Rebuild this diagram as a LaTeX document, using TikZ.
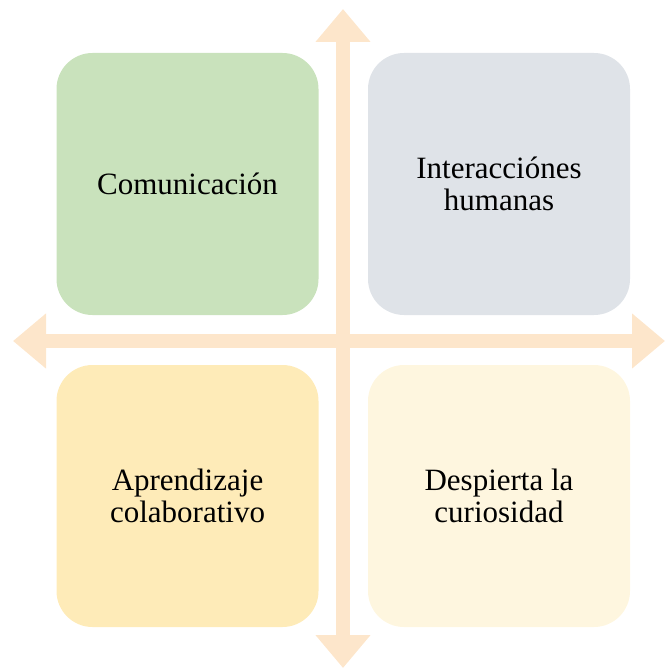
\documentclass[tikz,border=0pt]{standalone}
\usepackage{fontspec}
\setmainfont{Liberation Serif}
\usetikzlibrary{arrows.meta}
\definecolor{verde}{HTML}{C9E2BC}
\definecolor{gris}{HTML}{DFE3E8}
\definecolor{amarillo}{HTML}{FEEBB8}
\definecolor{crema}{HTML}{FEF6DF}
\definecolor{durazno}{HTML}{FDE6CB}
\begin{document}
\begin{tikzpicture}[x=1pt,y=-1pt,
    cuadro/.style={rectangle,rounded corners=36pt,minimum width=262pt,minimum height=262pt,
        align=center,inner sep=0pt,font=\fontsize{31}{32}\selectfont},
    flecha/.style={durazno,line width=14pt,
        {Triangle[length=33pt,width=53pt]}-{Triangle[length=33pt,width=53pt]}}]
    \useasboundingbox (0,0) rectangle (665,668);
    % ejes
    \coordinate (arriba) at (343,9);
    \coordinate (abajo) at (343,668);
    \coordinate (izq) at (13,341);
    \coordinate (der) at (665,341);
    \draw[flecha] (abajo) -- (arriba);
    \draw[flecha] (izq) -- (der);
    % cuadros
    \node[cuadro,fill=verde] (com) at (187.5,184) {Comunicación};
    \node[cuadro,fill=gris] (inter) at (499,184) {Interacciónes\\humanas};
    \node[cuadro,fill=amarillo] (apr) at (187.5,496) {Aprendizaje\\colaborativo};
    \node[cuadro,fill=crema] (desp) at (499,496) {Despierta la\\curiosidad};
\end{tikzpicture}
\end{document}
